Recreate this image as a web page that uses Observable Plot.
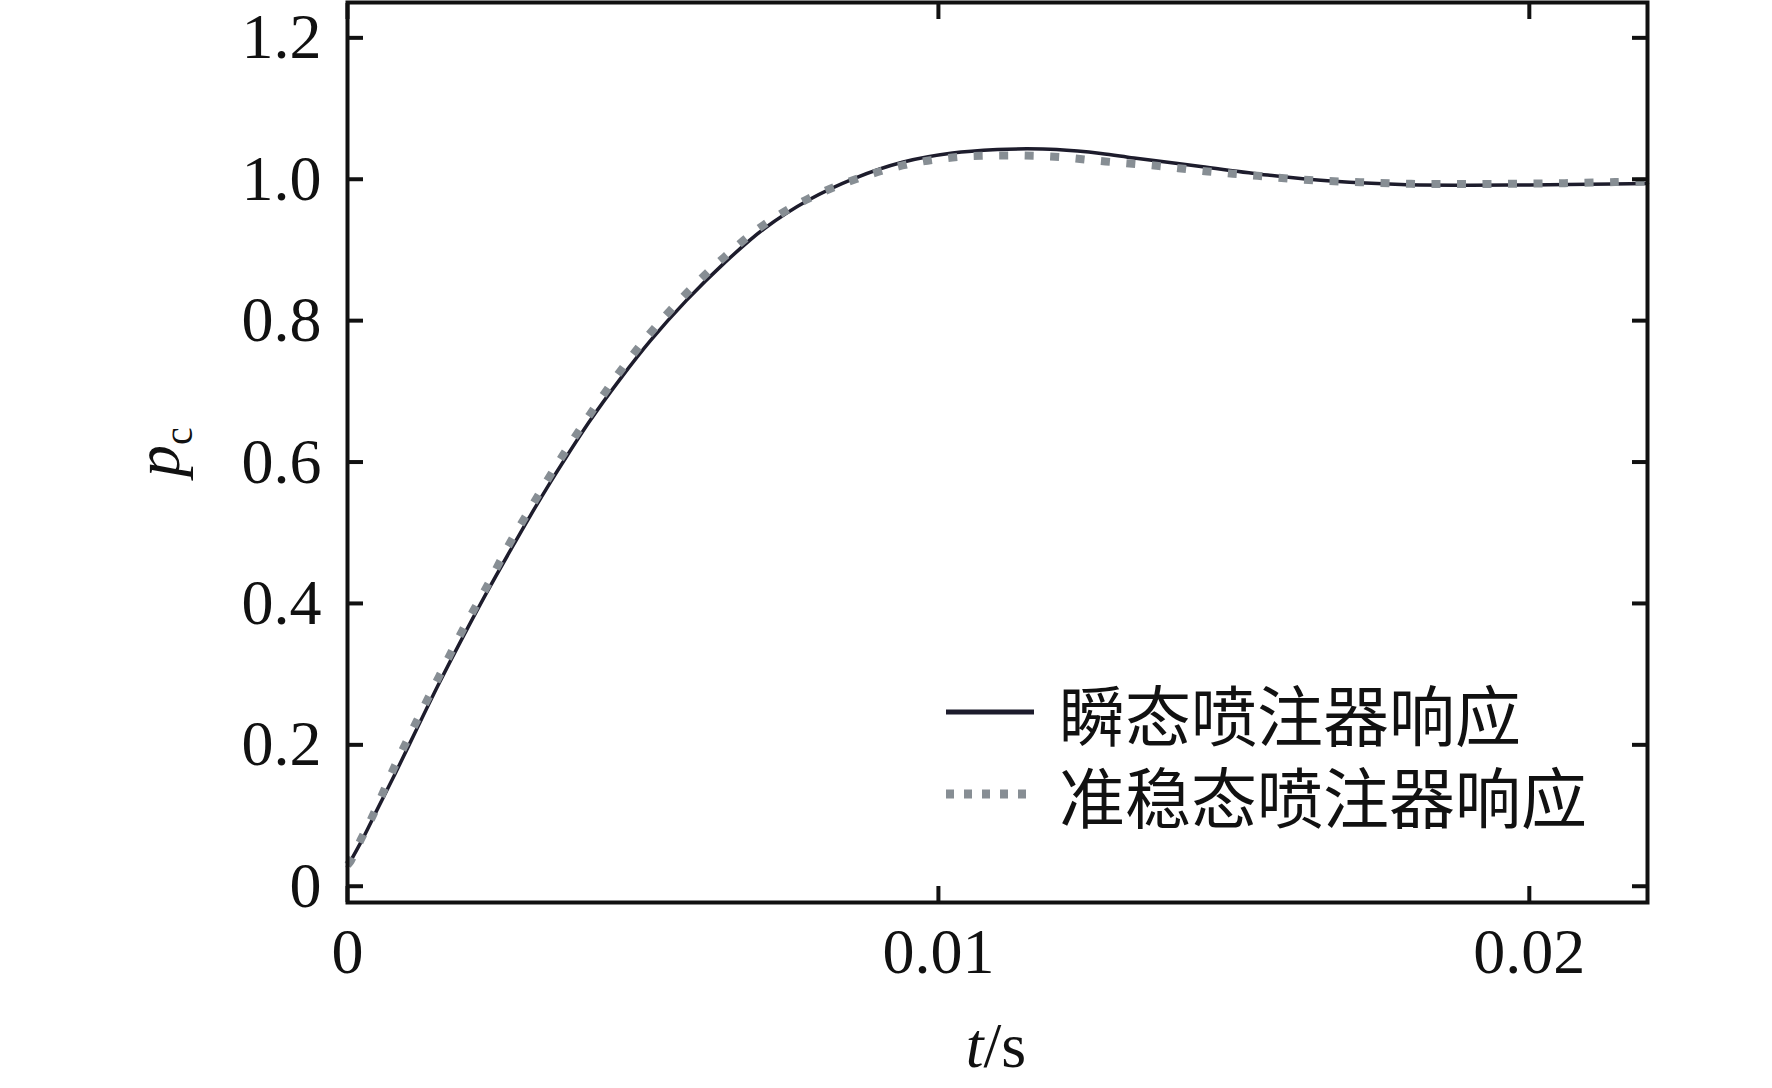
<!DOCTYPE html>
<html><head><meta charset="utf-8">
<script src="https://cdn.jsdelivr.net/npm/d3@7"></script>
<script src="https://cdn.jsdelivr.net/npm/@observablehq/plot@0.6"></script>
<style>
html,body{margin:0;padding:0;background:#fff;}
#chart svg{display:block;}
</style></head>
<body><div id="chart"></div>
<script>
// ---- data ----
const seriesNames = ["瞬态喷注器响应", "准稳态喷注器响应"];

// transient injector response (solid)
const transientT = [0, 0.00025, 0.0005, 0.0008, 0.00117, 0.00155, 0.00195, 0.00236, 0.00277, 0.0031,
  0.00343, 0.00364, 0.0041, 0.00462, 0.00513, 0.00574, 0.00637, 0.00705, 0.00781, 0.00857,
  0.00939, 0.01024, 0.0110, 0.0115, 0.0120, 0.01275, 0.01331, 0.01444, 0.01557, 0.0167,
  0.01783, 0.0190, 0.0200, 0.0210, 0.0220];
const transientP = [0.028, 0.066, 0.108, 0.158, 0.222, 0.287, 0.352, 0.416, 0.477, 0.525,
  0.571, 0.599, 0.658, 0.718, 0.772, 0.829, 0.881, 0.930, 0.971, 1.001,
  1.024, 1.037, 1.042, 1.043, 1.042, 1.0365, 1.030, 1.018, 1.006, 0.997,
  0.9925, 0.9915, 0.992, 0.993, 0.994];

// quasi-steady injector response (dotted)
const quasiT = [0, 0.000056, 0.000226, 0.000423, 0.00079, 0.001168, 0.001552, 0.001947, 0.002359, 0.002765,
  0.0031, 0.00343, 0.00364, 0.0041, 0.00462, 0.00513, 0.00574, 0.006372, 0.007049, 0.007811,
  0.008573, 0.009392, 0.010238, 0.01111, 0.01197, 0.01283, 0.01369, 0.01456, 0.0154, 0.01627,
  0.01714, 0.0180, 0.01886, 0.01973, 0.0206, 0.02145, 0.0220];
const quasiP = [0.030, 0.036, 0.066, 0.099, 0.168, 0.233, 0.297, 0.362, 0.424, 0.488,
  0.535, 0.581, 0.609, 0.667, 0.729, 0.783, 0.839, 0.8895, 0.9357, 0.973,
  0.9993, 1.0195, 1.0308, 1.0336, 1.0318, 1.0251, 1.0191, 1.011, 1.0049, 0.9988,
  0.9959, 0.9935, 0.9932, 0.9936, 0.9945, 0.996, 0.997];

const xTicks = [0, 0.01, 0.02];
const xTickLabels = ["0", "0.01", "0.02"];
const yTicks = [0, 0.2, 0.4, 0.6, 0.8, 1.0, 1.2];
const yTickLabels = ["0", "0.2", "0.4", "0.6", "0.8", "1.0", "1.2"];
const xDomain = [0, 0.022];
const yDomain = [-0.023, 1.25];

// ---- build tables ----
const transient = transientT.map((t, i) => ({t, p: transientP[i]}));
const quasi = quasiT.map((t, i) => ({t, p: quasiP[i]}));

const solidColor = "#1d1c2c";
const dotColor = "#878e94";
const ink = "#111";
const serif = "'Liberation Serif','Times New Roman',serif";

const chart = Plot.plot({
  width: 1772,
  height: 1088,
  marginLeft: 347,
  marginRight: 125,
  marginTop: 2,
  marginBottom: 186,
  style: {fontFamily: serif, fontSize: "64px", color: ink, background: "#fff"},
  x: {domain: xDomain, label: null, axis: null},
  y: {domain: yDomain, label: null, axis: null},
  marks: [
    Plot.line(transient, {x: "t", y: "p", stroke: solidColor, strokeWidth: 3.5, curve: "catmull-rom"}),
    Plot.line(quasi, {x: "t", y: "p", stroke: dotColor, strokeWidth: 8, strokeDasharray: "9,16.5", strokeLinecap: "butt", curve: "catmull-rom"}),
    Plot.frame({stroke: ink, strokeWidth: 4}),
    // tick labels
    Plot.axisY(yTicks, {anchor: "left", tickSize: 0, tickPadding: 26, label: null, fill: ink,
      tickFormat: d => yTickLabels[yTicks.indexOf(d)]}),
    Plot.axisX(xTicks, {anchor: "bottom", tickSize: 0, tickPadding: 25, label: null, fill: ink,
      tickFormat: d => xTickLabels[xTicks.indexOf(d)]}),
    // inward ticks on all four sides
    Plot.axisY(yTicks, {anchor: "left", tickSize: 16, dx: 16, strokeWidth: 4, stroke: ink, label: null, tickFormat: () => ""}),
    Plot.axisY(yTicks, {anchor: "right", tickSize: 16, dx: -16, strokeWidth: 4, stroke: ink, label: null, tickFormat: () => ""}),
    Plot.axisX(xTicks, {anchor: "bottom", tickSize: 16, dy: -16, strokeWidth: 4, stroke: ink, label: null, tickFormat: () => ""}),
    Plot.axisX(xTicks, {anchor: "top", tickSize: 16, dy: 16, strokeWidth: 4, stroke: ink, label: null, tickFormat: () => ""})
  ]
});

document.getElementById("chart").appendChild(chart);

// ---- axis titles and legend ----
const svg = d3.select(chart);

// x-axis title: t/s
const xt = svg.append("text")
  .attr("x", 996).attr("y", 1067)
  .attr("text-anchor", "middle")
  .attr("font-family", serif).attr("font-size", 64).attr("fill", ink);
xt.append("tspan").attr("font-style", "italic").text("t");
xt.append("tspan").text("/s");

// y-axis title: p_c
const yt = svg.append("text")
  .attr("transform", "translate(179,452) rotate(-90)")
  .attr("text-anchor", "middle")
  .attr("font-family", serif).attr("font-size", 64).attr("fill", ink);
yt.append("tspan").attr("font-style", "italic").text("p");
yt.append("tspan").attr("font-size", 40).attr("dy", 13).text("c");

// legend
const legend = svg.append("g").attr("text-anchor", "start");
const legendRows = [
  {name: seriesNames[0], y: 712, stroke: solidColor, width: 5, dash: null},
  {name: seriesNames[1], y: 794, stroke: dotColor, width: 9, dash: "8,10"}
];
legendRows.forEach(r => {
  legend.append("line")
    .attr("x1", 946).attr("x2", 1034).attr("y1", r.y).attr("y2", r.y)
    .attr("stroke", r.stroke).attr("stroke-width", r.width)
    .attr("stroke-dasharray", r.dash);
  legend.append("text")
    .attr("x", 1059).attr("y", r.y)
    .attr("text-anchor", "start")
    .attr("dominant-baseline", "central")
    .attr("font-family", "'Noto Sans CJK SC','Noto Sans CJK JP',sans-serif")
    .attr("font-size", 66).attr("fill", ink)
    .text(r.name);
});
</script>
</body></html>
